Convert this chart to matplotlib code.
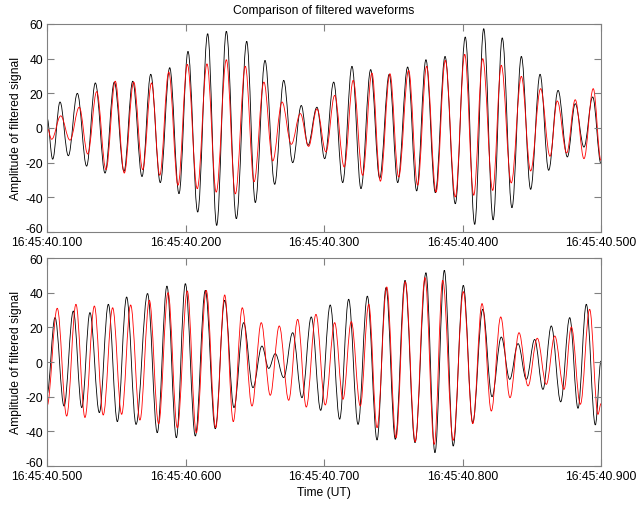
import matplotlib
matplotlib.use('Agg')
from matplotlib import pyplot as plt
from matplotlib.path import Path
from matplotlib.patches import PathPatch
import matplotlib.transforms as mtransforms
import numpy as np

plt.rcParams['font.family'] = ['Liberation Sans', 'DejaVu Sans']
plt.rcParams['axes.unicode_minus'] = False

# times in ms after 16:45:40, values are filtered amplitudes (turning points of each trace)
top_black_t = [100, 104.1, 109.4, 115.4, 121.9, 128.6, 134.9, 141.9, 148.6, 155.6, 161.9, 168.6,
               174.9, 181.8, 188.6, 195.3, 201.8, 208.8, 216.0, 222.5, 229.5, 236.7, 244.2, 250.4,
               257.4, 264.4, 270.9, 277.4, 283.6, 288.4, 294.9, 300.5, 307.0, 313.5, 320.2, 326.7,
               333.7, 340.2, 347.1, 353.2, 360.4, 366.9, 373.6, 380.4, 387.4, 394.8, 402.0, 408.8,
               415.3, 422.1, 428.7, 435.7, 442.5, 449.2, 456.0, 462.2, 469.0, 475.7, 481.4, 487.7,
               494.0, 500]
top_black_v = [6, -18, 15, -16, 20, -22, 26, -26, 26.5, -25, 27, -28,
               31, -31.5, 34.8, -37.9, 44.2, -48.5, 54.4, -56.2, 55.8, -52.3, 50, -43,
               39, -32.5, 27.5, -20, 13, -10, 12, -17.7, 26.5, -31.5, 35.6, -35,
               33.7, -29, 31, -31.5, 35.2, -36.3, 39.4, -37.3, 41.3, -43.7, 52.5, -55.6,
               57.3, -53, 52, -46, 41.3, -35.4, 31, -24.4, 21.7, -16.7, 14, -11,
               17.9, -20.6]

top_red_t = [100, 103.4, 109.9, 116.6, 123.3, 129.4, 135.9, 142.6, 149.3, 155.8, 162.6, 169.1,
             175.5, 181.4, 187.9, 194.6, 201.3, 208.5, 215.5, 222.2, 229.5, 236.0, 243.2, 249.5,
             256.6, 263.0, 269.7, 276.4, 282.9, 288.9, 294.9, 301.4, 307.7, 314.6, 321.1, 327.9,
             334.6, 340.7, 347.6, 353.9, 361.1, 367.6, 374.1, 380.9, 387.6, 394.8, 401.6, 408.1,
             414.6, 421.8, 428.0, 435.2, 442.5, 449.2, 456.4, 463.2, 468.4, 475.2, 481.4, 487.7,
             494.4, 500]
top_red_v = [0.5, -6.5, 7, -7, 12, -15, 21, -24, 27, -26, 26.5, -24,
             26, -27.3, 32.3, -33, 36.7, -35, 37, -37, 39.4, -38, 35.6, -31,
             26.5, -19, 15, -9.4, 8.3, -10.6, 11, -13.8, 18.8, -22.5, 27.5, -27.3,
             31.7, -30.7, 31.3, -28.3, 33.3, -33, 35.6, -37, 39, -39.8, 42.5, -38.8,
             40, -36, 36.2, -31.7, 29.8, -24.8, 22.7, -16.3, 15.6, -14.4, 16.3, -17.7,
             22.7, -18.7]

bot_black_t = [500, 505.8, 512.3, 519.0, 525.1, 531.0, 537.8, 544.3, 550.8, 557.5, 564.3, 572.6,
               579.6, 586.6, 593.4, 599.9, 607.1, 614.3, 621.5, 628.3, 635.0, 642.0, 648.7, 655.2,
               660.1, 664.8, 670.9, 677.4, 684.1, 690.8, 697.6, 704.5, 711.3, 717.8, 724.6, 731.3,
               738.3, 744.8, 751.5, 758.5, 765.7, 773.6, 780.1, 786.9, 793.3, 800.6, 807.4, 814.6,
               821.3, 828.0, 834.1, 840.1, 846.1, 852.1, 858.1, 864.1, 870.9, 877.4, 883.4, 889.4,
               895.9, 900]
bot_black_v = [-18.7, 25.6, -25.4, 29.4, -26.3, 28.5, -29.2, 33.3, -34.4, 37.5, -36, 39.5,
               -40.8, 43.8, -43.7, 45.2, -42.7, 41.3, -38.5, 35.6, -26.3, 22.7, -14.8, 9.2,
               -3.7, 4.8, -9, 16.9, -20.6, 26, -27.9, 32.9, -33, 36.2, -36, 38,
               -45, 42.9, -44.6, 47.1, -46.5, 51.5, -52.3, 52.9, -48.5, 44.2, -35, 30.4,
               -20, 14.4, -10, 10.6, -10, 13, -15.8, 20.8, -23, 25.6, -26.7, 33.3,
               -36.3, 0.6]

bot_red_t = [500, 507.4, 514.2, 520.9, 527.4, 534.2, 540.6, 547.4, 553.9, 560.4, 567.1, 573.9,
             580.6, 587.4, 594.1, 601.3, 607.8, 615.0, 621.8, 628.3, 634.5, 641.0, 648.0, 654.7,
             661.2, 667.7, 674.5, 681.0, 687.2, 694.2, 700.9, 707.7, 713.7, 719.7, 726.2, 732.3,
             738.3, 745.3, 752.0, 758.7, 765.9, 772.9, 779.6, 785.7, 793.3, 800.6, 807.4, 814.1,
             820.8, 827.6, 834.3, 840.8, 847.3, 854.0, 860.5, 866.6, 873.3, 878.6, 885.1, 891.8,
             897.8, 900]
bot_red_v = [-25.4, 31, -31.2, 33.3, -32, 32.3, -30.6, 31.3, -30.2, 32.9, -33.5, 35.6,
             -35.6, 40, -37.9, 41, -40.8, 41.3, -37.9, 38.7, -34.4, 31.3, -25.4, 22.7,
             -19.2, 20.8, -22.1, 24.6, -26, 27.5, -24.8, 22.7, -21.5, 23.3, -25.4, 33.3,
             -37.9, 43.3, -43.7, 46.3, -46, 48.7, -47.5, 47.1, -45.2, 40.6, -35.6, 33.7,
             -28.3, 26, -20.6, 16.9, -13.8, 13.7, -12.9, 15, -15.8, 20.2, -24.4, 30.4,
             -30.2, -24]

top_ticks = [100, 200, 300, 400, 500]
top_labels = ['16:45:40.100', '16:45:40.200', '16:45:40.300', '16:45:40.400', '16:45:40.500']
bot_ticks = [500, 600, 700, 800, 900]
bot_labels = ['16:45:40.500', '16:45:40.600', '16:45:40.700', '16:45:40.800', '16:45:40.900']
y_ticks = [-60, -40, -20, 0, 20, 40, 60]

fs = 8.7
frame = '#808080'


def wave_path(t, v, k=0.364):
    # cubic bezier between turning points, flat tangents at each peak/trough
    verts = [(t[0], v[0])]
    codes = [Path.MOVETO]
    for i in range(len(t) - 1):
        d = (t[i + 1] - t[i]) * k
        verts += [(t[i] + d, v[i]), (t[i + 1] - d, v[i + 1]), (t[i + 1], v[i + 1])]
        codes += [Path.CURVE4] * 3
    return Path(verts, codes)


fig = plt.figure(figsize=(6.38, 5.06), dpi=100)
ax1 = fig.add_axes([47 / 638, 1 - 233 / 506, 554 / 638, 208 / 506])
ax2 = fig.add_axes([47 / 638, 1 - 467 / 506, 554 / 638, 208 / 506])

panels = [
    (ax1, top_black_t, top_black_v, top_red_t, top_red_v, top_ticks, top_labels),
    (ax2, bot_black_t, bot_black_v, bot_red_t, bot_red_v, bot_ticks, bot_labels),
]
for ax, bt, bv, rt, rv, ticks, labels in panels:
    ax.add_patch(PathPatch(wave_path(bt, bv), fill=False, edgecolor='black', lw=0.6))
    ax.add_patch(PathPatch(wave_path(rt, rv), fill=False, edgecolor='red', lw=0.6))
    ax.set_xlim(ticks[0], ticks[-1])
    ax.set_ylim(-60, 60)
    ax.set_xticks(ticks)
    ax.set_xticklabels(labels)
    ax.set_yticks(y_ticks)
    ax.tick_params(direction='in', top=True, right=True, length=5, width=0.8,
                   color=frame, labelsize=fs, pad=3)
    for s in ax.spines.values():
        s.set_color(frame)
        s.set_linewidth(0.8)
    ax.set_ylabel('Amplitude of filtered signal', fontsize=fs, labelpad=2)
    # lift the bottom y label a little so it clears the first time label
    lab = ax.get_yticklabels()[0]
    lab.set_transform(lab.get_transform() + mtransforms.ScaledTranslation(0, 3 / 72, fig.dpi_scale_trans))

ax1.set_title('Comparison of filtered waveforms', fontsize=fs, pad=8)
ax2.set_xlabel('Time (UT)', fontsize=fs, labelpad=3)

fig.savefig('out.png', dpi=100)
